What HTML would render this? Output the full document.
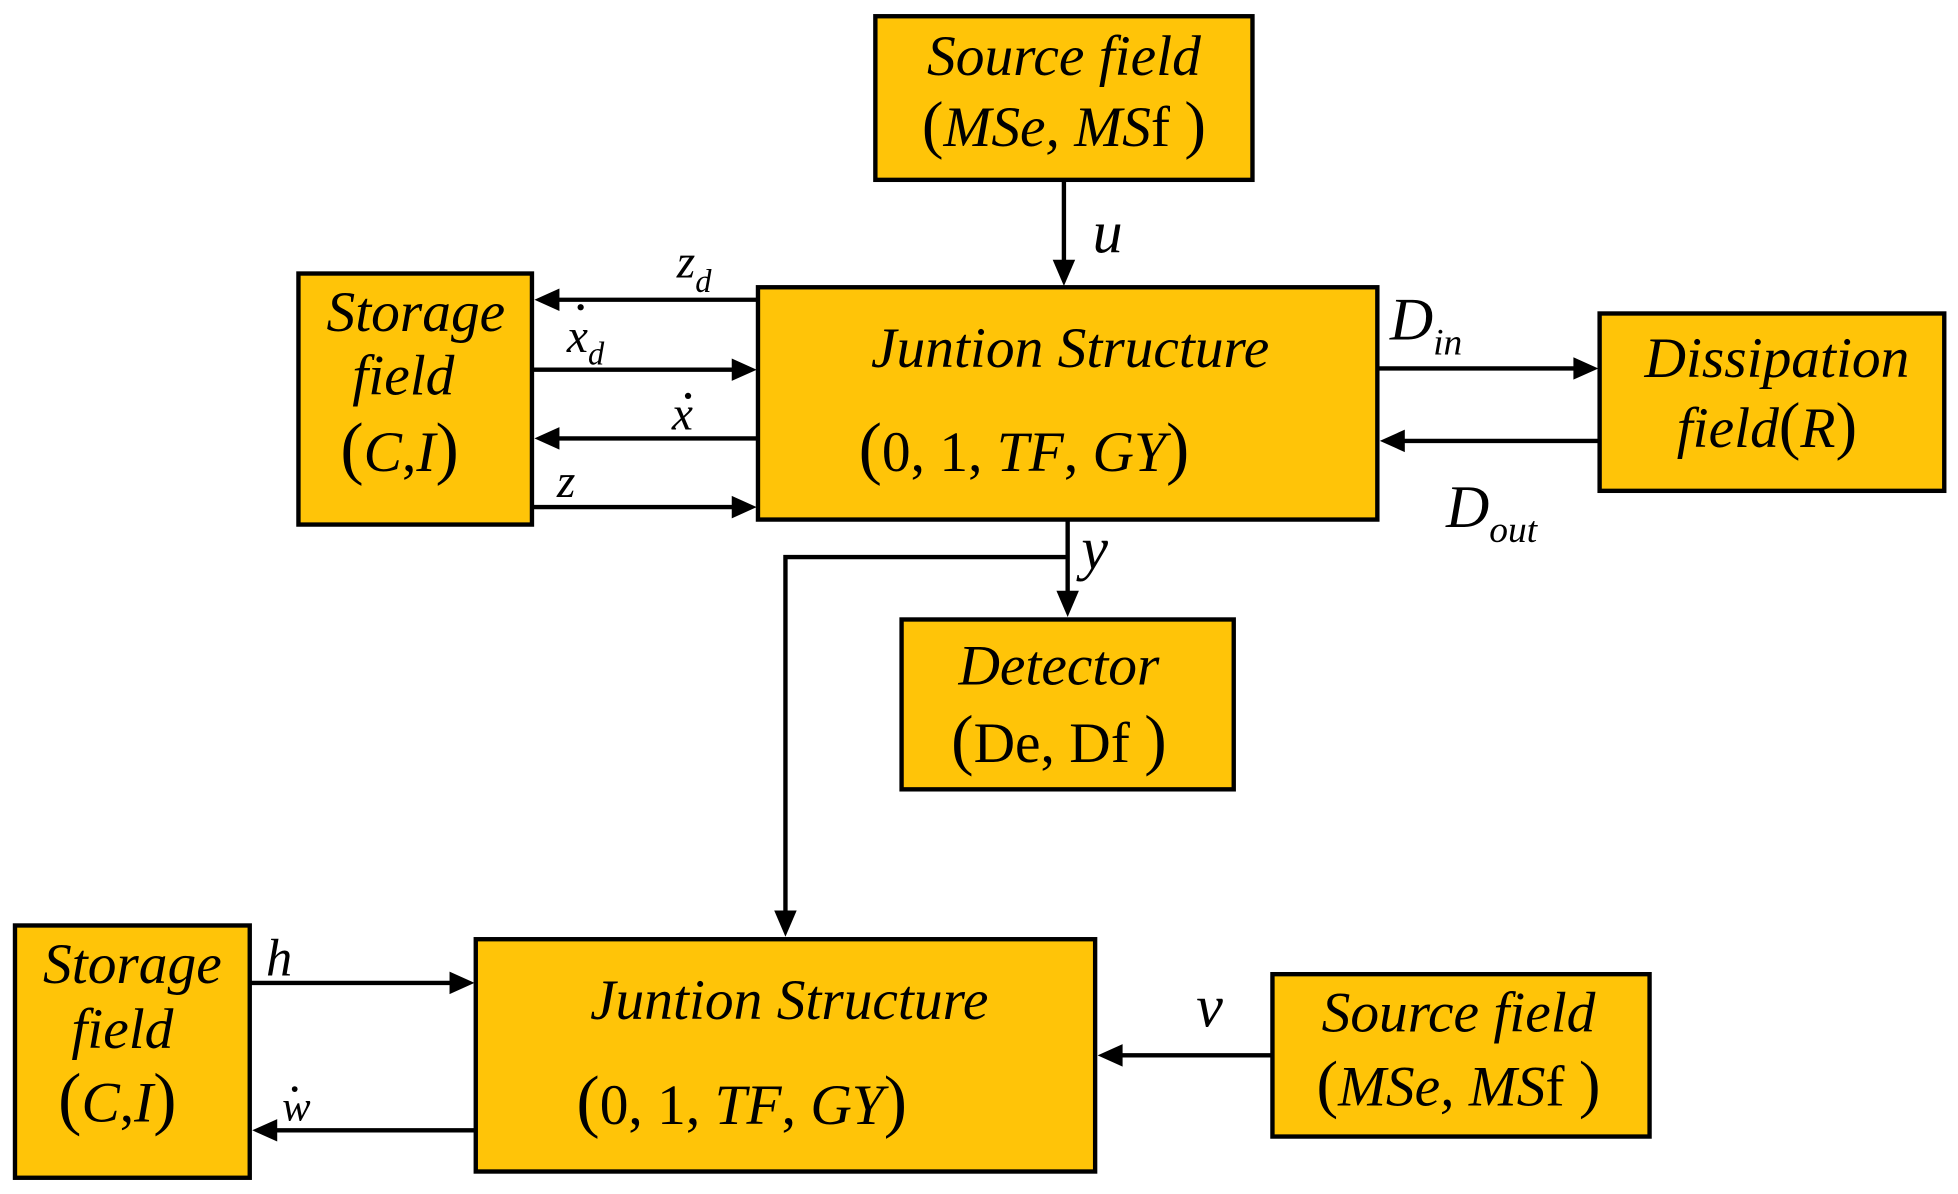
<!DOCTYPE html>
<html><head><meta charset="utf-8"><style>
html,body{margin:0;padding:0;background:#fff;}
svg{display:block;}
text{font-family:"Liberation Serif",serif;fill:#000;}
</style></head><body>
<svg width="1958" height="1194" viewBox="0 0 1568 956" preserveAspectRatio="none" xmlns="http://www.w3.org/2000/svg">
<g fill="#FFC408" stroke="#000" stroke-width="3.5">
<rect x="701" y="13" width="302" height="131"/>
<rect x="607" y="230" width="496" height="186"/>
<rect x="239" y="219" width="187" height="201"/>
<rect x="1281" y="251" width="276" height="142"/>
<rect x="722" y="496" width="266" height="136"/>
<rect x="381" y="752" width="496" height="186"/>
<rect x="12" y="741" width="188" height="202"/>
<rect x="1019" y="780" width="302" height="130"/>
</g>
<g stroke="#000" stroke-width="3.5" fill="none">
<line x1="852" y1="144" x2="852" y2="214"/>
<line x1="607" y1="240" x2="444" y2="240"/>
<line x1="426" y1="296" x2="590" y2="296"/>
<line x1="607" y1="351" x2="444" y2="351"/>
<line x1="426" y1="406" x2="590" y2="406"/>
<line x1="1103" y1="295" x2="1264" y2="295"/>
<line x1="1281" y1="353" x2="1121" y2="353"/>
<line x1="855" y1="416" x2="855" y2="478"/>
<polyline points="855,446 629,446 629,734"/>
<line x1="200" y1="787" x2="364" y2="787"/>
<line x1="381" y1="905" x2="218" y2="905"/>
<line x1="1019" y1="845" x2="895" y2="845"/>
</g>
<g fill="#000">
<polygon points="852,229 843,208 861,208"/>
<polygon points="428,240 448,231 448,249"/>
<polygon points="606,296 586,287 586,305"/>
<polygon points="428,351 448,342 448,360"/>
<polygon points="606,406 586,397 586,415"/>
<polygon points="1280,295 1260,286 1260,304"/>
<polygon points="1105,353 1125,344 1125,362"/>
<polygon points="855,494 846,473 864,473"/>
<polygon points="629,750 620,729 638,729"/>
<polygon points="380,787 360,778 360,796"/>
<polygon points="202,905 222,896 222,914"/>
<polygon points="879,845 899,836 899,854"/>
<circle cx="465" cy="246" r="2.5"/>
<circle cx="551" cy="317" r="2.5"/>
<circle cx="236" cy="872" r="2.3"/>
</g>
<g font-size="46" text-anchor="middle" font-style="italic">
<text x="852" y="60">Source field</text>
<text x="852" y="117"><tspan font-style="normal" font-size="52">(</tspan>MSe, MS<tspan font-style="normal">f </tspan><tspan font-style="normal" font-size="52">)</tspan></text>
<text x="857" y="294">Juntion Structure</text>
<text x="820" y="377"><tspan font-style="normal" font-size="56">(</tspan><tspan font-style="normal">0, 1, </tspan>TF<tspan font-style="normal">, </tspan>GY<tspan font-style="normal" font-size="56">)</tspan></text>
<text x="333" y="265">Storage</text>
<text x="323" y="316">field</text>
<text x="320" y="377"><tspan font-style="normal" font-size="56">(</tspan>C<tspan font-style="normal">,</tspan>I<tspan font-style="normal" font-size="56">)</tspan></text>
<text x="1423" y="302">Dissipation</text>
<text x="1415" y="358">field<tspan font-style="normal" font-size="52">(</tspan>R<tspan font-style="normal" font-size="52">)</tspan></text>
<text x="848" y="548">Detector</text>
<text x="848" y="610" font-style="normal"><tspan font-size="54">(</tspan>De, Df <tspan font-size="54">)</tspan></text>
<text x="632" y="816">Juntion Structure</text>
<text x="594" y="900"><tspan font-style="normal" font-size="56">(</tspan><tspan font-style="normal">0, 1, </tspan>TF<tspan font-style="normal">, </tspan>GY<tspan font-style="normal" font-size="56">)</tspan></text>
<text x="106" y="787">Storage</text>
<text x="98" y="839">field</text>
<text x="94" y="898"><tspan font-style="normal" font-size="56">(</tspan>C<tspan font-style="normal">,</tspan>I<tspan font-style="normal" font-size="56">)</tspan></text>
<text x="1168" y="826">Source field</text>
<text x="1168" y="885"><tspan font-style="normal" font-size="52">(</tspan>MSe, MS<tspan font-style="normal">f </tspan><tspan font-style="normal" font-size="52">)</tspan></text>
</g>
<g font-size="48" font-style="italic">
<text x="875" y="202">u</text>
<text x="1113" y="272">D<tspan font-size="30" dy="12">in</tspan></text>
<text x="1158" y="422">D<tspan font-size="30" dy="12">out</tspan></text>
<text x="866" y="455">y</text>
<text x="958" y="822">v</text>
<text x="213" y="781" font-size="42">h</text>
</g>
<g font-size="38" font-style="italic">
<text x="542" y="222">z<tspan font-size="26" dy="12">d</tspan></text>
<text x="454" y="282">x<tspan font-size="26" dy="10">d</tspan></text>
<text x="538" y="344">x</text>
<text x="446" y="398">z</text>
<text x="226" y="897" font-size="34">w</text>
</g>
</svg>
</body></html>
